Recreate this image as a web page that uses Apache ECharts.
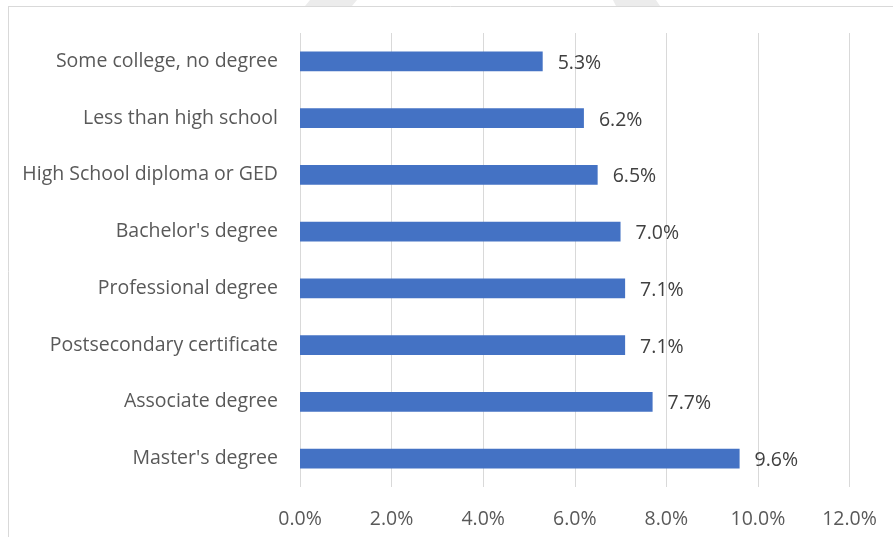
<!DOCTYPE html>
<html>
<head>
<meta charset="utf-8">
<script src="https://cdn.jsdelivr.net/npm/echarts@6/dist/echarts.min.js"></script>
<style>html,body{margin:0;padding:0;background:#fff;}#c{width:893px;height:537px;}</style>
</head>
<body>
<div id="c"></div>
<script>
const categories = ["Some college, no degree","Less than high school","High School diploma or GED","Bachelor's degree","Professional degree","Postsecondary certificate","Associate degree","Master's degree"];
const values = [5.3, 6.2, 6.5, 7.0, 7.1, 7.1, 7.7, 9.6];
const xTicks = [0, 2, 4, 6, 8, 10, 12];

const chart = echarts.init(document.getElementById('c'));
const font = '"Open Sans", sans-serif';
chart.setOption({
  animation: false,
  graphic: [
    {type:'polygon', shape:{points:[[310,0],[357,0],[352,6],[305,6]]}, style:{fill:'#ececec'}, silent:true},
    {type:'polygon', shape:{points:[[613,0],[656,0],[660,6],[616,6]]}, style:{fill:'#ececec'}, silent:true},
    {type:'line', shape:{x1:8,y1:6.5,x2:893,y2:6.5}, style:{stroke:'#d9d9d9', lineWidth:1}, silent:true},
    {type:'line', shape:{x1:8.5,y1:6,x2:8.5,y2:537}, style:{stroke:'#d9d9d9', lineWidth:1}, silent:true}
  ],
  grid: {left: 300, right: 43.5, top: 33, bottom: 50, containLabel: false},
  xAxis: {
    type: 'value', min: 0, max: 12, interval: 2,
    axisLine: {show: false}, axisTick: {show: false},
    splitLine: {lineStyle: {color: '#d9d9d9', width: 1}},
    axisLabel: {formatter: v => v.toFixed(1) + '%', color: '#595959', fontSize: 19.5, fontFamily: font, margin: 22}
  },
  yAxis: {
    type: 'category', data: categories, inverse: true,
    axisLine: {show: false}, axisTick: {show: false},
    axisLabel: {color: '#595959', fontSize: 19.5, fontFamily: font, margin: 22, padding: [4, 0, 0, 0]}
  },
  series: [{
    type: 'bar', data: values, barCategoryGap: '65%',
    itemStyle: {color: '#4472c4'},
    label: {show: true, position: 'right', distance: 15, offset: [0, 2], formatter: p => p.value.toFixed(1) + '%', color: '#404040', fontSize: 19.5, fontFamily: font}
  }]
});
</script>
</body>
</html>
